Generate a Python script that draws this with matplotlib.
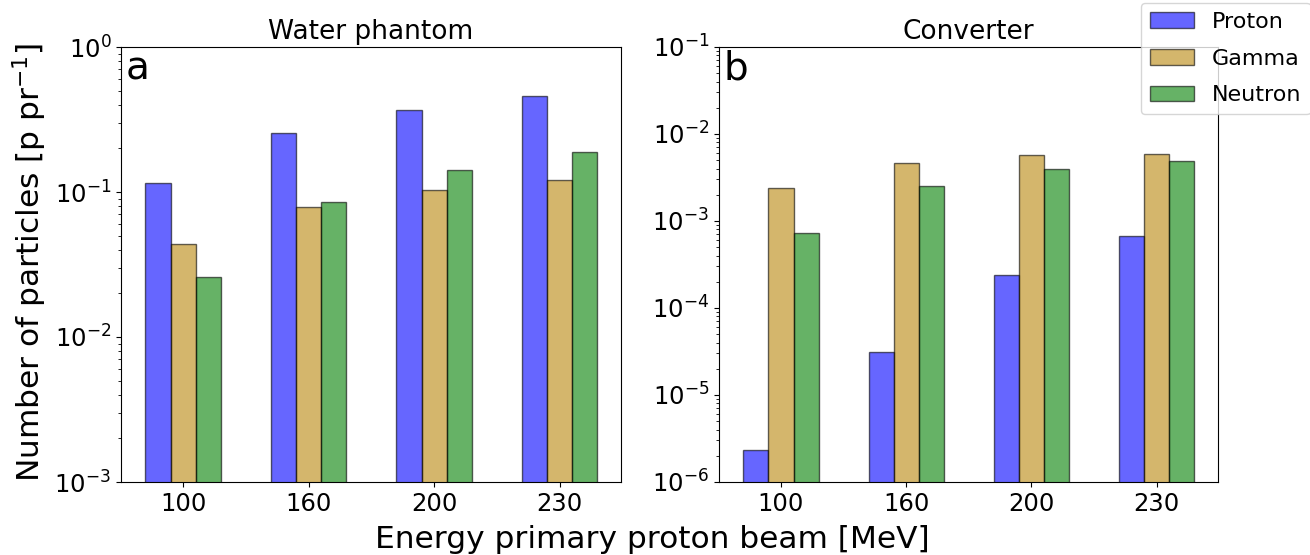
import numpy as np
import matplotlib
matplotlib.use("Agg")
import matplotlib.pyplot as plt

energies = ["100", "160", "200", "230"]
labels = ["Proton", "Gamma", "Neutron"]
colors = ["b", "darkgoldenrod", "g"]

# a: water phantom
water_proton = [0.116, 0.254, 0.368, 0.459]
water_gamma = [0.0437, 0.0789, 0.103, 0.121]
water_neutron = [0.026, 0.0857, 0.141, 0.189]

# b: converter
conv_proton = [2.31e-6, 3.1e-5, 2.39e-4, 6.78e-4]
conv_gamma = [2.38e-3, 4.64e-3, 5.69e-3, 5.85e-3]
conv_neutron = [7.28e-4, 2.55e-3, 3.99e-3, 4.9e-3]

width = 0.2
x = np.arange(len(energies))

fig = plt.figure(figsize=(13.1, 5.55), dpi=100)
ax1 = fig.add_axes([121/1310, 1-482/555, 500/1310, 435/555])
ax2 = fig.add_axes([719/1310, 1-482/555, 499/1310, 435/555])

def draw_panel(ax, series, ylim, title, letter):
    for i, vals in enumerate(series):
        ax.bar(x + (i-1)*width, vals, width, color=colors[i], alpha=0.6,
               edgecolor='k', linewidth=1, label=labels[i])
    ax.set_yscale('log')
    ax.set_ylim(ylim)
    ax.set_xlim(-0.495, 3.49)
    ax.set_xticks(x)
    ax.set_xticklabels(energies)
    ax.tick_params(axis='both', labelsize=17.5)
    ax.set_title(title, fontsize=19)
    ax.text(0.01, 0.995, letter, transform=ax.transAxes, fontsize=28,
            va='top', ha='left')

draw_panel(ax1, [water_proton, water_gamma, water_neutron], (1e-3, 1), "Water phantom", "a")
draw_panel(ax2, [conv_proton, conv_gamma, conv_neutron], (1e-6, 1e-1), "Converter", "b")

fig.text(30/1310, 1-262/555, r"Number of particles [p pr$^{-1}$]", rotation=90,
         fontsize=22.5, ha='center', va='center')
fig.text(652/1310, 1-540/555, "Energy primary proton beam [MeV]", fontsize=22.5,
         ha='center', va='center')

handles, labs = ax1.get_legend_handles_labels()
fig.legend(handles, labs, loc='upper left', bbox_to_anchor=(1141/1310, 1-3/555),
           borderaxespad=0, fontsize=16, labelspacing=0.75)

fig.savefig("out.png", dpi=100)
